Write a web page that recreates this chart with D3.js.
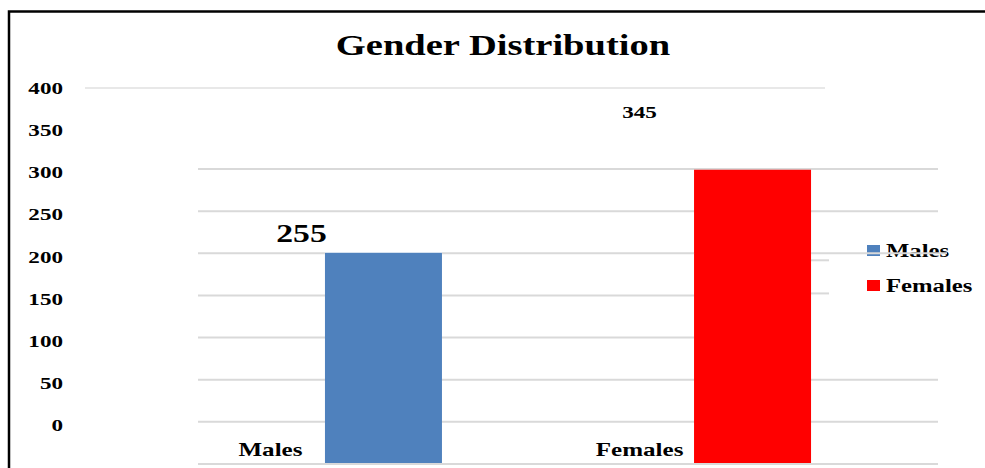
<!DOCTYPE html>
<html>
<head>
<meta charset="utf-8">
<script src="https://cdn.jsdelivr.net/npm/d3@7"></script>
<style>
  html, body { margin: 0; padding: 0; background: #fff; overflow: hidden; }
  svg { display: block; }
  text { font-family: "Liberation Serif", "Times New Roman", serif; font-weight: bold; fill: #000; }
</style>
</head>
<body>
<script>
// ---- data ----
const categories = ["Males", "Females"];
const values = [255, 345];
const colors = ["#4f81bd", "#ff0000"];
const tickValues = [0, 50, 100, 150, 200, 250, 300, 350, 400];
const gridValues = [0, 50, 100, 150, 200, 250, 300, 350];
const title = "Gender Distribution";

// ---- layout ----
const W = 985, H = 468;
const SX = 1.32; // horizontal stretch of the text in the original picture

const svg = d3.select("body").append("svg").attr("width", W).attr("height", H);

const xBar = d3.scaleBand().domain(categories).range([198, 938]).paddingInner(0.683).paddingOuter(0.344);
const xLab = d3.scaleBand().domain(categories).range([85, 825]).paddingInner(0.683).paddingOuter(0.344);
const yTick = d3.scaleLinear().domain([0, 400]).range([425, 88]);
const yGrid = d3.scaleLinear().domain([0, 350]).range([464, 169]);
const yBar = d3.scaleLinear().domain([0, 400]).range([488, 119]);
const plotBottom = 463;

function txt(g, x, y, s, size, anchor, sx) {
  return g.append("text")
    .attr("transform", `translate(${x},${y}) scale(${sx || SX},1)`)
    .attr("text-anchor", anchor || "start")
    .style("font-size", size + "px")
    .text(s);
}

// frame (left and top edges only are visible)
svg.append("path").attr("d", `M9,${H + 5} V11.5 H${W + 5}`)
  .attr("fill", "none").attr("stroke", "#000").attr("stroke-width", 2.5);

// title
txt(svg, 503, 55, title, 29.2, "middle");

// gridlines
const gridEnd = v => v === 250 ? 947 : v === 200 ? xBar("Females") + xBar.bandwidth() : v === 150 ? xBar("Females") : 938;
const grid = svg.append("g");
grid.append("line").attr("x1", 85).attr("x2", 825).attr("y1", yTick(400)).attr("y2", yTick(400))
  .attr("stroke", "#e0e0e0").attr("stroke-width", 1.3);
gridValues.filter(v => v !== 250).forEach(v => {
  grid.append("line").attr("x1", 198).attr("x2", gridEnd(v)).attr("y1", yGrid(v)).attr("y2", yGrid(v))
    .attr("stroke", "#d9d9d9").attr("stroke-width", 2);
});
// small stray grid fragments beside the legend
const fx = xBar("Females") + xBar.bandwidth();
[yGrid(200) - 2, yGrid(250) + 7].forEach(y => {
  grid.append("line").attr("x1", fx).attr("x2", fx + 18).attr("y1", y).attr("y2", y)
    .attr("stroke", "#d9d9d9").attr("stroke-width", 2);
});

// y tick labels
const ticks = svg.append("g");
tickValues.forEach(v => {
  txt(ticks, 63, yTick(v) + 6, String(v), 17.5, "end");
});

// legend
const leg = svg.append("g");
categories.forEach((c, i) => {
  leg.append("rect").attr("x", 867).attr("y", 245 + i * 35).attr("width", 13).attr("height", 11).attr("fill", colors[i]);
  txt(leg, 886, 257 + i * 35, c, 19, "start", 1.3);
});

// bars
svg.append("g").selectAll("rect").data(categories).join("rect")
  .attr("x", d => xBar(d))
  .attr("width", xBar.bandwidth())
  .attr("y", (d, i) => yBar(values[i]))
  .attr("height", (d, i) => plotBottom - yBar(values[i]))
  .attr("fill", (d, i) => colors[i]);

// the 250 gridline is drawn over the legend text (as in the original)
[[198, xBar("Males")], [xBar("Males") + xBar.bandwidth(), xBar("Females")], [fx, gridEnd(250)]].forEach(([a, b]) => {
  svg.append("line").attr("x1", a).attr("x2", b).attr("y1", yGrid(250)).attr("y2", yGrid(250))
    .attr("stroke", "#d9d9d9").attr("stroke-width", 2);
});

// category labels
const cl = svg.append("g");
categories.forEach(c => {
  txt(cl, xLab(c) + xLab.bandwidth() / 2, 456, c, 19, "middle");
});

// value labels
const labelStyle = { Males: { dx: 31, dy: -11, size: 25.5 }, Females: { dx: 0, dy: -52, size: 17.5 } };
const vl = svg.append("g");
categories.forEach((c, i) => {
  const s = labelStyle[c];
  txt(vl, xLab(c) + xLab.bandwidth() / 2 + s.dx, yBar(values[i]) + s.dy, String(values[i]), s.size, "middle");
});
</script>
</body>
</html>
